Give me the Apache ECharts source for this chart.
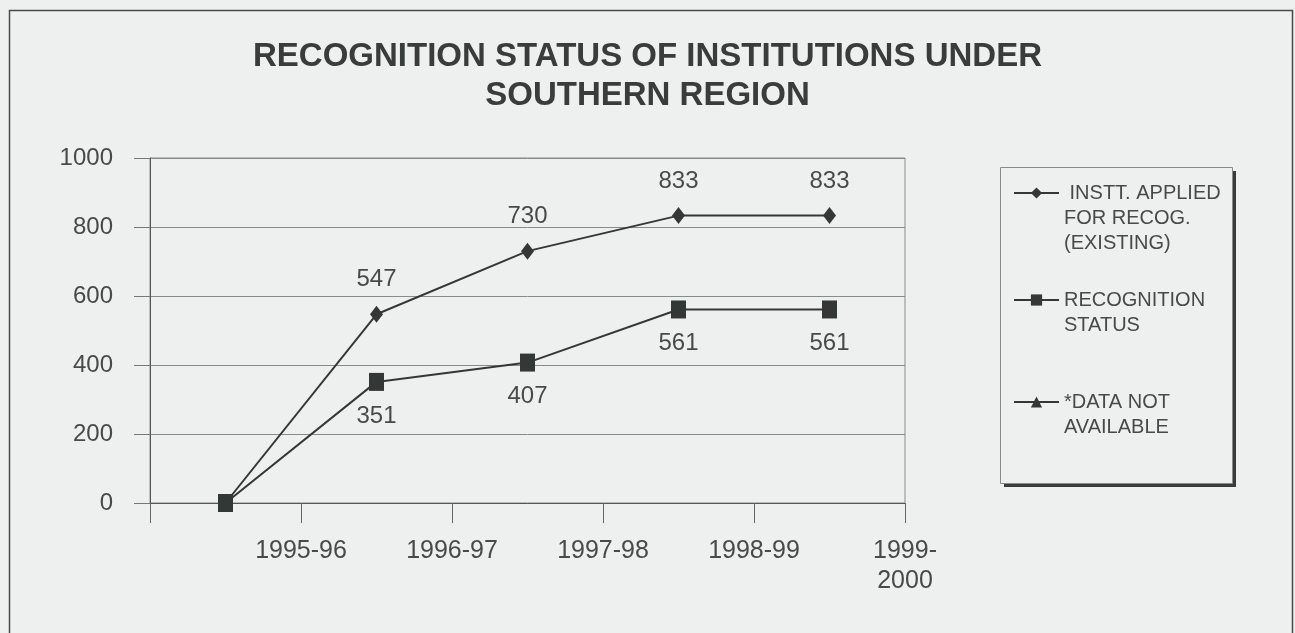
<!DOCTYPE html>
<html>
<head>
<meta charset="utf-8">
<title>Recognition status of institutions under Southern Region</title>
<script src="https://cdn.jsdelivr.net/npm/echarts@6/dist/echarts.min.js"></script>
<style>
  html, body { margin: 0; padding: 0; background: #eef0ef; }
  #chart { width: 1295px; height: 633px; }
</style>
</head>
<body>
<div id="chart"></div>
<script>
// Точки данных лежат посередине между подписями оси (как в исходнике Excel)
const periods = ['1994-95', '1995-96', '1996-97', '1997-98', '1998-99'];
const tickLabels = ['', '1995-96', '1996-97', '1997-98', '1998-99', '1999-\n2000'];
const yTicks = [0, 200, 400, 600, 800, 1000];

const seriesNames = ['INSTT. APPLIED FOR RECOG. (EXISTING)', 'RECOGNITION STATUS', '*DATA NOT AVAILABLE'];
const legendLabels = [' INSTT. APPLIED\nFOR RECOG.\n(EXISTING)', 'RECOGNITION\nSTATUS', '*DATA NOT\nAVAILABLE'];

const applied = [0, 547, 730, 833, 833];
const recognised = [0, 351, 407, 561, 561];
const notAvailable = [];

const FONT = 'Liberation Sans, Arial, sans-serif';
const INK = '#333837';
const TEXT = '#464b4a';
const BG = '#eef0ef';

const chart = echarts.init(document.getElementById('chart'));

// Подпись точки: у нулевой точки подписи нет
const pointLabel = (pos, dist) => ({
  show: true,
  position: pos,
  distance: dist,
  color: TEXT,
  fontSize: 24,
  fontFamily: FONT,
  formatter: (p) => (p.dataIndex === 0 ? '' : String(p.value)),
});

// Легенда: текст центрируется по значку, поэтому сверху добавляем пустые
// строки, чтобы первая строка подписи стояла на уровне значка.
const legendItem = (i, top) => {
  const label = legendLabels[i];
  const extra = label.split('\n').length - 1;
  return {
    orient: 'vertical',
    left: 1013,
    top: top,
    padding: 0,
    itemWidth: 45,
    itemHeight: 14,
    data: [seriesNames[i]],
    formatter: () => '\n'.repeat(extra) + label,
    textStyle: { color: TEXT, fontSize: 20, lineHeight: 25, fontFamily: FONT },
    selectedMode: false,
  };
};

chart.setOption({
  backgroundColor: BG,
  animation: false,
  title: {
    text: 'RECOGNITION STATUS OF INSTITUTIONS UNDER\nSOUTHERN REGION',
    left: 'center',
    top: 32,
    textStyle: { color: '#383c3b', fontSize: 33, fontWeight: 'bold', lineHeight: 39, fontFamily: FONT },
  },
  graphic: [
    {
      type: 'rect', left: 7, top: 8, z: 0,
      shape: { width: 1283, height: 660 },
      style: { fill: 'none', stroke: '#4a4a4a', lineWidth: 1.5 },
    },
    {
      type: 'rect', left: 1004, top: 171, z: 0,
      shape: { width: 232, height: 316 },
      style: { fill: '#3a3c3b' },
    },
    {
      type: 'rect', left: 1000, top: 167, z: 1,
      shape: { width: 232, height: 316 },
      style: { fill: BG, stroke: '#8a8a8a', lineWidth: 1 },
    },
  ],
  legend: [
    legendItem(0, 130.5),
    legendItem(1, 262.5),
    legendItem(2, 364.5),
  ],
  grid: {
    left: 150, right: 390, top: 158, bottom: 130,
    outerBoundsMode: 'none',
    show: true, borderColor: '#8a8a8a', borderWidth: 1, backgroundColor: 'transparent',
  },
  xAxis: [
    {
      type: 'category',
      data: periods,
      boundaryGap: true,
      position: 'bottom',
      show: false,
    },
    {
      type: 'category',
      data: tickLabels,
      boundaryGap: false,
      position: 'bottom',
      axisLine: { show: true, lineStyle: { color: '#555', width: 1 } },
      axisTick: { show: true, length: 20, lineStyle: { color: '#666' } },
      axisLabel: { color: TEXT, fontSize: 25, lineHeight: 30, fontFamily: FONT, margin: 33, interval: 0 },
      splitLine: { show: false },
    },
  ],
  yAxis: {
    type: 'value',
    min: yTicks[0],
    max: yTicks[yTicks.length - 1],
    interval: yTicks[1] - yTicks[0],
    axisLine: { show: true, lineStyle: { color: '#555', width: 1 } },
    axisTick: { show: true, length: 16, lineStyle: { color: '#777' } },
    axisLabel: { color: TEXT, fontSize: 24, fontFamily: FONT, margin: 37, formatter: (v) => String(v) },
    splitLine: { lineStyle: { color: '#8a8a8a', width: 1 } },
  },
  series: [
    {
      name: seriesNames[0],
      type: 'line',
      xAxisIndex: 0,
      data: applied,
      symbol: 'diamond',
      symbolSize: [13, 17],
      lineStyle: { color: INK, width: 2 },
      itemStyle: { color: INK },
      label: pointLabel('top', 14),
      z: 2,
    },
    {
      name: seriesNames[1],
      type: 'line',
      xAxisIndex: 0,
      data: recognised,
      symbol: 'rect',
      symbolSize: [15, 18],
      lineStyle: { color: INK, width: 2 },
      itemStyle: { color: INK },
      label: pointLabel('bottom', 13),
      z: 3,
    },
    {
      name: seriesNames[2],
      type: 'line',
      xAxisIndex: 0,
      data: notAvailable,
      symbol: 'triangle',
      symbolSize: 12,
      lineStyle: { color: INK, width: 2 },
      itemStyle: { color: INK },
    },
  ],
});
</script>
</body>
</html>
